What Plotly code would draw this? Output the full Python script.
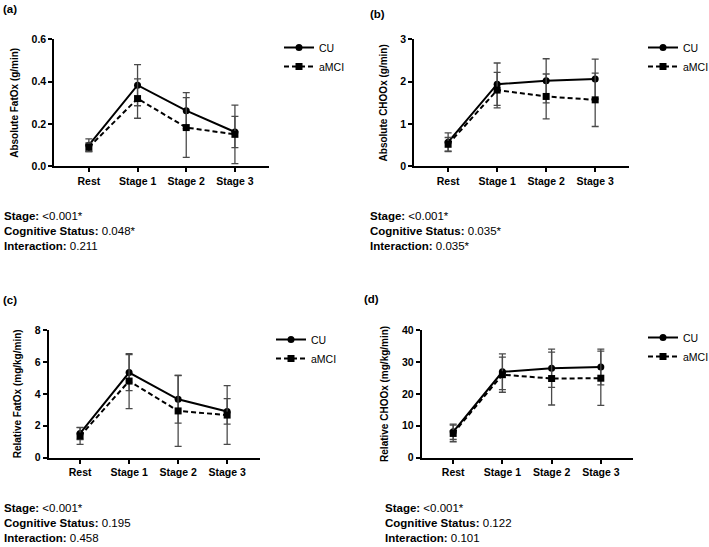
import plotly.graph_objects as go

W, H = 709, 547

categories = ["Rest", "Stage 1", "Stage 2", "Stage 3"]

# (a) Absolute FatOx (g/min)
a_cu = [0.10, 0.383, 0.263, 0.162]
a_cu_sd = [0.03, 0.097, 0.085, 0.074]
a_mci = [0.09, 0.320, 0.183, 0.151]
a_mci_sd = [0.02, 0.093, 0.141, 0.138]

# (b) Absolute CHOOx (g/min)
b_cu = [0.57, 1.94, 2.02, 2.06]
b_cu_sd = [0.22, 0.50, 0.52, 0.47]
b_mci = [0.52, 1.80, 1.65, 1.57]
b_mci_sd = [0.16, 0.42, 0.53, 0.63]

# (c) Relative FatOx (mg/kg/min)
c_cu = [1.52, 5.33, 3.66, 2.90]
c_cu_sd = [0.38, 1.13, 1.50, 0.80]
c_mci = [1.36, 4.80, 2.93, 2.67]
c_mci_sd = [0.52, 1.72, 2.22, 1.84]

# (d) Relative CHOOx (mg/kg/min)
d_cu = [8.1, 26.9, 28.0, 28.4]
d_cu_sd = [2.4, 5.6, 6.0, 5.6]
d_mci = [7.6, 26.0, 24.8, 24.9]
d_mci_sd = [2.6, 5.5, 8.3, 8.5]

panel_labels = ["(a)", "(b)", "(c)", "(d)"]
y_titles = ["Absolute FatOx (g/min)", "Absolute CHOOx (g/min)",
            "Relative FatOx (mg/kg/min)", "Relative CHOOx (mg/kg/min)"]
y_ranges = [[0, 0.6], [0, 3], [0, 8], [0, 40]]
y_dticks = [0.2, 1, 2, 10]
y_formats = [".1f", "d", "d", "d"]
stats = [
    [("Stage:", "&lt;0.001*"), ("Cognitive Status:", "0.048*"), ("Interaction:", "0.211")],
    [("Stage:", "&lt;0.001*"), ("Cognitive Status:", "0.035*"), ("Interaction:", "0.035*")],
    [("Stage:", "&lt;0.001*"), ("Cognitive Status:", "0.195"), ("Interaction:", "0.458")],
    [("Stage:", "&lt;0.001*"), ("Cognitive Status:", "0.122"), ("Interaction:", "0.101")],
]
series = [
    (a_cu, a_cu_sd, a_mci, a_mci_sd),
    (b_cu, b_cu_sd, b_mci, b_mci_sd),
    (c_cu, c_cu_sd, c_mci, c_mci_sd),
    (d_cu, d_cu_sd, d_mci, d_mci_sd),
]

# layout in pixels: (x0, x1, ytop, ybottom)
boxes = [(54.3, 269, 39.3, 166.3), (414.3, 629, 39.3, 166.3),
         (48.7, 260, 330, 457.7), (421.7, 633.3, 330, 457.7)]
x_ranges = [[-0.71, 3.70], [-0.69, 3.69], [-0.64, 3.67], [-0.64, 3.66]]
label_pos = [(1, 9), (368, 14), (1, 300), (362, 299)]
legend_pos = [(279, 33), (643, 33), (271, 325), (643, 323)]
stats_pos = [(2, 216), (368, 216), (2, 508), (383, 508)]

FONT = "Liberation Sans, Arial, Helvetica, sans-serif"
ERR_COL = "#4a4a4a"

fig = go.Figure()
layout = dict(width=W, height=H,
              margin=dict(l=0, r=0, t=0, b=0, pad=0, autoexpand=False),
              paper_bgcolor="white", plot_bgcolor="white",
              font=dict(family=FONT, color="black"), annotations=[])

for i in range(4):
    sfx = "" if i == 0 else str(i + 1)
    xa, ya = "x" + sfx, "y" + sfx
    cu, cu_sd, mci, mci_sd = series[i]
    leg = "legend" if i == 0 else "legend" + str(i + 1)
    fig.add_trace(go.Scatter(
        x=categories, y=cu, name="CU", xaxis=xa, yaxis=ya, legend=leg,
        mode="lines+markers",
        line=dict(color="black", width=2),
        marker=dict(symbol="circle", size=7, color="black"),
        error_y=dict(type="data", array=cu_sd, visible=True, color=ERR_COL,
                     thickness=1.3, width=3.5),
        cliponaxis=False))
    fig.add_trace(go.Scatter(
        x=categories, y=mci, name="aMCI", xaxis=xa, yaxis=ya, legend=leg,
        mode="lines+markers",
        line=dict(color="black", width=2, dash="5px,3px"),
        marker=dict(symbol="square", size=7, color="black"),
        error_y=dict(type="data", array=mci_sd, visible=True, color=ERR_COL,
                     thickness=1.3, width=3.5),
        cliponaxis=False))

    x0, x1, yt, yb = boxes[i]
    ax_common = dict(showline=True, linecolor="black", linewidth=2,
                     ticks="outside", ticklen=4, tickwidth=2, tickcolor="black",
                     showgrid=False, zeroline=False, automargin=False,
                     tickfont=dict(family=FONT, size=10.5, color="black", weight="bold"))
    layout["xaxis" + sfx] = dict(ax_common, domain=[x0 / W, x1 / W],
                                 anchor=ya, type="category", range=x_ranges[i])
    layout["yaxis" + sfx] = dict(ax_common, domain=[1 - yb / H, 1 - yt / H],
                                 anchor=xa, range=y_ranges[i], dtick=y_dticks[i],
                                 tickformat=y_formats[i],
                                 title=dict(text="<b>" + y_titles[i] + "</b>",
                                            font=dict(family=FONT, size=10, color="black"),
                                            standoff=11))
    lx, ly = legend_pos[i]
    layout[leg] = dict(x=lx / W, y=1 - ly / H, xanchor="left", yanchor="top",
                       xref="paper", yref="paper",
                       font=dict(family=FONT, size=10.5, color="black"),
                       bgcolor="rgba(0,0,0,0)", itemwidth=30, tracegroupgap=0)

    px, py = label_pos[i]
    layout["annotations"].append(dict(
        text="<b>" + panel_labels[i] + "</b>", xref="paper", yref="paper",
        x=px / W, y=1 - py / H, xanchor="left", yanchor="middle", showarrow=False,
        font=dict(family=FONT, size=11.5, color="black")))

    sx, sy = stats_pos[i]
    for k, (lab, val) in enumerate(stats[i]):
        layout["annotations"].append(dict(
            text="<b>" + lab + "</b> " + val, xref="paper", yref="paper",
            x=sx / W, y=1 - (sy + 15 * k) / H, xanchor="left", yanchor="middle",
            showarrow=False, font=dict(family=FONT, size=11.5, color="black")))

fig.update_layout(**layout)
fig.write_html("out.html")
